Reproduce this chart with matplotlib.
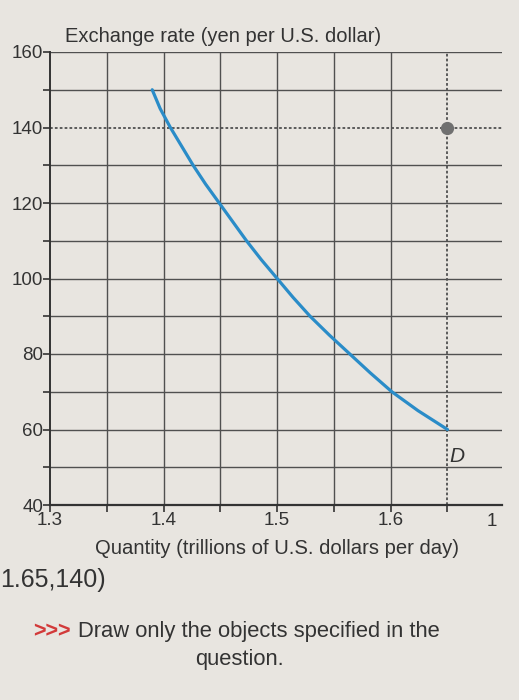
import matplotlib.pyplot as plt
import numpy as np

plt.rcParams['font.family'] = ['Liberation Sans', 'DejaVu Sans']

# demand curve
quantity = [1.390, 1.397, 1.406, 1.416, 1.426, 1.437, 1.449, 1.461, 1.473,
            1.486, 1.500, 1.514, 1.529, 1.546, 1.564, 1.582, 1.601, 1.624, 1.650]
rate = [150, 145, 140, 135, 130, 125, 120, 115, 110,
        105, 100, 95, 90, 85, 80, 75, 70, 65, 60]

point_q, point_r = 1.65, 140
y_ticks = [40, 60, 80, 100, 120, 140, 160]
x_ticks = [1.3, 1.4, 1.5, 1.6]
x_labels = ['1.3', '1.4', '1.5', '1.6']

bg = '#e8e5e0'
grid_c = '#505050'

fig = plt.figure(figsize=(5.19, 7.0), dpi=100, facecolor=bg)
ax = fig.add_axes([50 / 519, 1 - 505 / 700, 452 / 519, 453 / 700])
ax.set_facecolor(bg)
ax.set_xlim(1.3, 1.698)
ax.set_ylim(40, 160)

# grid
for x in np.arange(1.35, 1.66, 0.05):
    if abs(x - 1.65) < 1e-6:
        continue
    ax.axvline(x, color=grid_c, lw=1.0, zorder=1)
for y in range(50, 161, 10):
    if y == 140:
        continue
    ax.axhline(y, color=grid_c, lw=1.0, zorder=1)

# dotted guide lines through the point
ax.axhline(point_r, color=grid_c, lw=1.3, ls=(0, (1.5, 1.2)), zorder=2)
ax.axvline(point_q, color=grid_c, lw=1.3, ls=(0, (1.5, 1.2)), zorder=2)

ax.plot(quantity, rate, color='#2a8cc8', lw=2.3, zorder=3,
        solid_capstyle='round', solid_joinstyle='round')
ax.plot([point_q], [point_r], marker='o', ms=8.5, color='#707070', zorder=4)
ax.text(1.652, 51.5, 'D', fontsize=15, style='italic', color='#333333')

for s in ['top', 'right']:
    ax.spines[s].set_visible(False)
ax.spines['left'].set_color('#333333')
ax.spines['bottom'].set_color('#333333')
ax.spines['left'].set_linewidth(1.4)
ax.spines['bottom'].set_linewidth(1.6)

ax.set_yticks(y_ticks)
ax.set_yticks(range(50, 160, 20), minor=True)
ax.set_xticks(x_ticks)
ax.set_xticklabels(x_labels)
ax.set_xticks([1.35, 1.45, 1.55, 1.65], minor=True)
ax.tick_params(axis='both', which='both', direction='out', color='#333333',
               labelsize=13.5, labelcolor='#333333', length=5, width=1.2)
ax.tick_params(axis='y', pad=0)
ax.tick_params(axis='x', pad=0)

fig.text(65 / 519, 1 - 36 / 700, 'Exchange rate (yen per U.S. dollar)',
         fontsize=14.5, color='#333333', va='center', ha='left')
fig.text(277 / 519, 1 - 548 / 700, 'Quantity (trillions of U.S. dollars per day)',
         fontsize=14.6, color='#333333', va='center', ha='center')
fig.text(487 / 519, 1 - 521 / 700, '1', fontsize=13.5, color='#333333',
         va='center', ha='left')
fig.text(0, 1 - 580 / 700, '1.65,140)', fontsize=18, color='#333333',
         va='center', ha='left')
fig.text(33 / 519, 1 - 632 / 700, '>>>', fontsize=15.5, color='#d23a3a',
         fontweight='bold', va='center', ha='left')
fig.text(78 / 519, 1 - 632 / 700, 'Draw only the objects specified in the',
         fontsize=15.8, color='#333333', va='center', ha='left')
fig.text(239 / 519, 1 - 660 / 700, 'question.', fontsize=15.8, color='#333333',
         va='center', ha='center')

fig.savefig('out.png', dpi=100, facecolor=bg)
